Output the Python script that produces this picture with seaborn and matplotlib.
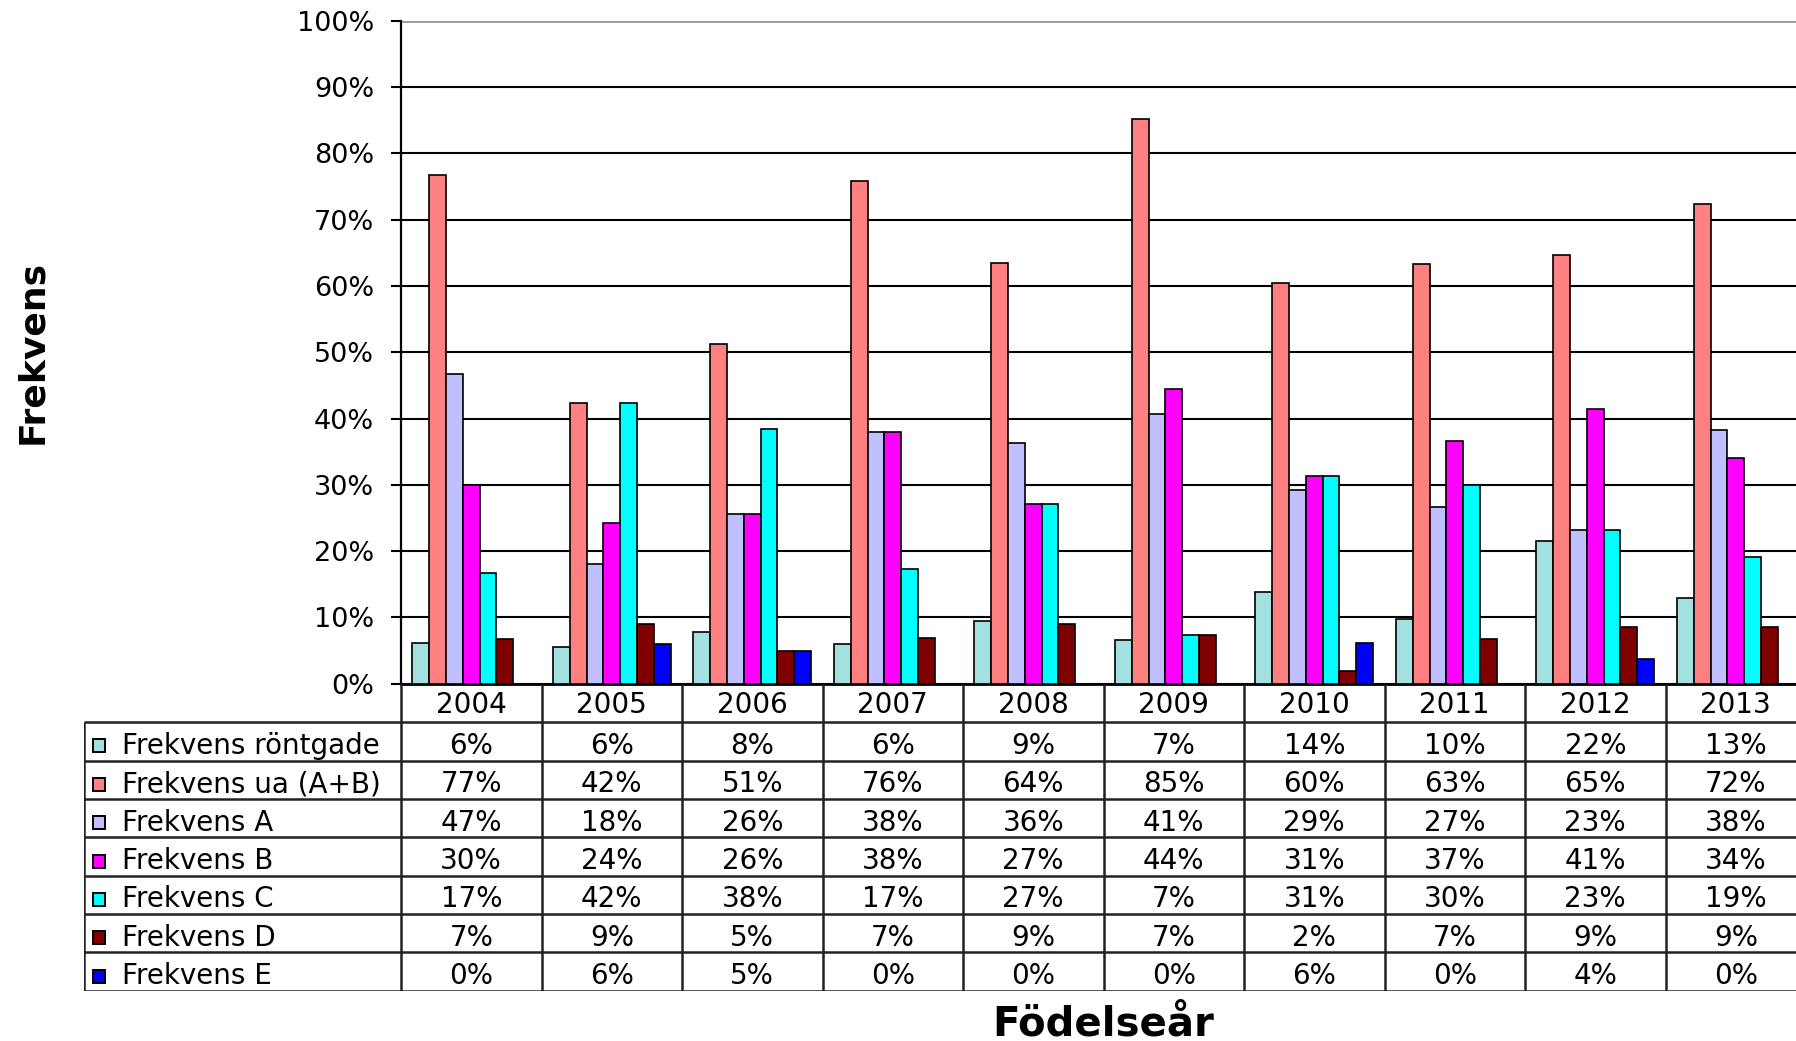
import matplotlib
matplotlib.use("Agg")
import matplotlib.pyplot as plt
import seaborn as sns
import pandas as pd
from matplotlib.patches import Rectangle

# ---------------- data ----------------
years = ["2004", "2005", "2006", "2007", "2008", "2009", "2010", "2011", "2012", "2013"]
series_names = ["Frekvens röntgade", "Frekvens ua (A+B)", "Frekvens A",
                "Frekvens B", "Frekvens C", "Frekvens D", "Frekvens E"]
rontgade = [6.2, 5.6, 7.8, 6.0, 9.4, 6.6, 13.8, 9.7, 21.6, 12.9]
ua_ab = [76.7, 42.3, 51.3, 75.8, 63.5, 85.2, 60.4, 63.3, 64.7, 72.3]
frek_a = [46.7, 18.1, 25.6, 38.0, 36.3, 40.7, 29.2, 26.7, 23.2, 38.2]
frek_b = [30.0, 24.2, 25.6, 38.0, 27.1, 44.4, 31.3, 36.6, 41.4, 34.1]
frek_c = [16.7, 42.3, 38.4, 17.3, 27.1, 7.3, 31.3, 30.0, 23.2, 19.1]
frek_d = [6.7, 9.0, 5.0, 6.9, 9.0, 7.3, 2.0, 6.7, 8.6, 8.6]
frek_e = [0.0, 6.0, 5.0, 0.0, 0.0, 0.0, 6.2, 0.0, 3.7, 0.0]
yticks = [0, 10, 20, 30, 40, 50, 60, 70, 80, 90, 100]

series_values = [rontgade, ua_ab, frek_a, frek_b, frek_c, frek_d, frek_e]
colors = ["#A3E0E0", "#FF8080", "#C0C0FF", "#FF00FF", "#00FFFF", "#800000", "#0000FF"]
palette = dict(zip(series_names, colors))

rows = []
for name, vals in zip(series_names, series_values):
    for yr, v in zip(years, vals):
        rows.append({"year": yr, "series": name, "value": v})
df = pd.DataFrame(rows)

# ---------------- layout (pixels) ----------------
W, H = 1796, 1041
ax_l, ax_r, ax_t, ax_b = 401.0, 1806.0, 20.6, 683.8
tbl_l, tbl_b = 83.6, 990.8
col_w = (ax_r - ax_l) / len(years)

fig = plt.figure(figsize=(W / 100, H / 100), dpi=100)
ax = fig.add_axes([ax_l / W, 1 - ax_b / H, (ax_r - ax_l) / W, (ax_b - ax_t) / H])

sns.barplot(data=df, x="year", y="value", hue="series", order=years,
            hue_order=series_names, palette=palette, saturation=1,
            width=0.837, edgecolor="black", linewidth=1.2, legend=False, ax=ax,
            zorder=3)

ax.set_xlim(-0.5, len(years) - 0.5)
ax.set_ylim(0, 100)
ax.set_yticks(yticks)
ax.set_yticklabels([f"{t}%" for t in yticks], fontsize=19.5)
ax.set_xticks([])
ax.set_xlabel("")
ax.set_ylabel("")
ax.tick_params(axis="y", direction="out", length=7.5, width=1.5, pad=12, colors="black")
ax.yaxis.grid(True, color="black", linewidth=1.5, zorder=0)
ax.set_axisbelow(True)
gl = ax.yaxis.get_gridlines()
gl[-1].set_color("#999999")
gl[-1].set_linewidth(2.0)
for s in ["top", "right"]:
    ax.spines[s].set_visible(False)
ax.spines["left"].set_linewidth(1.6)
ax.spines["bottom"].set_linewidth(2.0)
ax.set_facecolor("white")

# ---------------- data table ----------------
n_rows = len(series_names) + 1
tax = fig.add_axes([tbl_l / W, 1 - tbl_b / H, (ax_r - tbl_l) / W, (tbl_b - ax_b) / H])
x_left = -0.5 - (ax_l - tbl_l) / col_w
tax.set_xlim(x_left, len(years) - 0.5)
tax.set_ylim(n_rows, 0)
tax.axis("off")

line_kw = dict(color="#222222", linewidth=1.8, solid_capstyle="butt")
for i in range(len(years) + 1):
    tax.plot([i - 0.5, i - 0.5], [0, n_rows], **line_kw)
for r in range(1, n_rows + 1):
    tax.plot([x_left, len(years) - 0.5], [r, r], **line_kw)
tax.plot([x_left, x_left], [1, n_rows], **line_kw)

for j, yr in enumerate(years):
    tax.text(j, 0.55, yr, ha="center", va="center", fontsize=20)

row_h = (tbl_b - ax_b) / n_rows
key_w = 12.5 / col_w
key_h = 13.0 / row_h
for r, (name, vals, c) in enumerate(zip(series_names, series_values, colors), start=1):
    kx = x_left + 9.0 / col_w
    tax.add_patch(Rectangle((kx, r + 0.62 - key_h / 2), key_w, key_h,
                            facecolor=c, edgecolor="black", linewidth=1.4))
    tax.text(x_left + 38.0 / col_w, r + 0.62, name, ha="left", va="center", fontsize=20)
    for j, v in enumerate(vals):
        tax.text(j, r + 0.62, f"{round(v):.0f}%", ha="center", va="center", fontsize=20)

# ---------------- axis titles ----------------
fig.text(32 / W, 1 - 352 / H, "Frekvens", rotation=90, ha="center", va="center",
         fontsize=26, fontweight="bold")
fig.text(1103 / W, 1 - 1024 / H, "Födelseår", ha="center", va="center",
         fontsize=29, fontweight="bold")

fig.savefig("out.png", dpi=100, facecolor="white")
